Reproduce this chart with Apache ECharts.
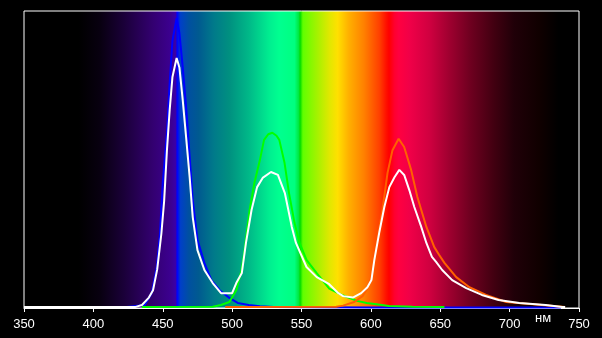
<!DOCTYPE html>
<html>
<head>
<meta charset="utf-8">
<script src="https://cdn.jsdelivr.net/npm/echarts@6/dist/echarts.min.js"></script>
<style>
html,body{margin:0;padding:0;background:#000;}
#c{width:602px;height:338px;}
</style>
</head>
<body>
<div id="c"></div>
<script>
// X axis ticks (nm)
var xTicks = [350, 400, 450, 500, 550, 600, 650, 700, 750];
var unitLabel = 'нм';

// Blue emitter spectrum
var blueWl  = [424, 437, 442, 445.7, 448, 450, 453, 455, 457, 460, 462, 464.4, 467, 469.4, 471.6, 475, 480, 485, 491, 498, 504, 512, 520, 530, 600, 737];
var blueVal = [0.3, 1, 5, 13.8, 25, 42, 59, 75.8, 90, 97.6, 92.6, 81, 66.7, 50.8, 36.4, 23, 15.2, 9.4, 6, 3.4, 1.7, 1, 0.6, 0.3, 0.2, 0.2];

// Green emitter spectrum
var greenWl  = [435, 486, 492, 498, 503, 506.8, 509, 512.6, 516, 520, 523, 526, 529, 532, 534, 537.8, 541, 545, 548.6, 553.6, 560.8, 570, 580, 590, 597, 604, 613, 630, 653];
var greenVal = [0.3, 0.4, 1, 2, 6, 12.8, 19.5, 33, 42, 49.8, 56.6, 58.5, 59, 58, 56.6, 48.8, 38.7, 28.6, 21.9, 16.2, 11.8, 6.5, 4.2, 2.4, 1.7, 1.3, 0.7, 0.4, 0.3];

// Red emitter spectrum
var redWl  = [495, 575, 580, 588, 594, 598, 601, 604.7, 608.3, 612, 615.5, 620, 624, 629, 633.5, 640, 645.7, 649, 653, 661.5, 671, 683, 697.5, 719, 740];
var redVal = [0.3, 0.4, 0.8, 2, 4, 7, 12, 23, 33, 45.5, 53, 57, 54.2, 46.5, 37.4, 27.3, 20.5, 18, 15.2, 10.4, 7, 4.4, 2, 1.2, 0.3];

// Total (white) spectrum
var whiteWl  = [350, 400, 430, 435, 440, 443, 446, 449, 451, 453, 455, 457, 460, 462, 464.4, 467, 469.4, 471.6, 475, 480, 486, 492, 500, 503, 507, 510, 514, 518, 522, 528, 533, 538, 543, 546, 553.6, 561, 570, 576, 580, 587, 593, 597.5, 600.4, 602.5, 606, 609.7, 613.3, 617, 620.5, 624, 627.7, 631.3, 636.3, 640, 644, 647, 651.4, 658.6, 668.7, 680, 692, 707, 726, 738, 740];
var whiteVal = [0.3, 0.3, 0.3, 1, 3.5, 6, 13, 25, 36, 53, 66.7, 77.8, 84.2, 81, 70, 56.6, 44, 30.6, 19.5, 12.8, 8.4, 5, 5, 8.4, 11.8, 22, 33, 40.7, 43.8, 45.8, 44.8, 38.7, 27.3, 21.9, 13.8, 10.4, 8, 5.2, 4, 3.5, 5, 7, 9.4, 16.2, 25.3, 34, 40.7, 44, 46.5, 44.8, 39.7, 34, 27.3, 21.9, 17.2, 15.5, 12.8, 9.4, 6.7, 4.4, 2.7, 1.7, 1, 0.3, 0.3];

function pairs(xs, ys) {
  var out = [];
  for (var i = 0; i < xs.length; i++) out.push([xs[i], ys[i]]);
  return out;
}

// Background spectrum gradient stops (wavelength -> colour)
var gradStops = [
  [350, '#000000'], [390, '#000000'], [405, '#080010'], [422, '#1a0038'],
  [443, '#330070'], [456, '#3c0090'], [459.5, '#3a00a8'], [460.5, '#0000ff'],
  [463, '#0040c8'], [469, '#0050a0'], [476, '#005a90'], [487, '#007a8a'],
  [498, '#009080'], [512, '#00b888'], [527, '#00ee90'], [534, '#00ff90'],
  [545, '#00ff80'], [548, '#00e840'], [549, '#00dd00'], [551, '#60ff00'],
  [563, '#b0f000'], [570, '#e0e800'], [576, '#ffe000'], [584, '#ffb000'],
  [595, '#ff8000'], [606, '#ff4000'], [611, '#ff1000'], [613, '#ff0000'],
  [617, '#ff0030'], [620, '#ff0040'], [628, '#f00048'], [642, '#d00040'],
  [656, '#a00030'], [671, '#700020'], [689, '#400010'], [703, '#200008'],
  [721, '#100000'], [735, '#000000'], [750, '#000000']
];
var xMin = xTicks[0], xMax = xTicks[xTicks.length - 1];
var colorStops = gradStops.map(function (s) {
  return { offset: (s[0] - xMin) / (xMax - xMin), color: s[1] };
});

var chart = echarts.init(document.getElementById('c'), null, { renderer: 'canvas' });
var lineBase = { type: 'line', showSymbol: false, symbol: 'none', animation: false, silent: true };

chart.setOption({
  backgroundColor: '#000',
  animation: false,
  grid: {
    left: 24, right: 23, top: 11, bottom: 30,
    show: true,
    backgroundColor: { type: 'linear', x: 0, y: 0, x2: 1, y2: 0, colorStops: colorStops },
    borderColor: '#ffffff', borderWidth: 1
  },
  xAxis: {
    type: 'value', min: xMin, max: xMax, interval: 50,
    axisLine: { show: true, lineStyle: { color: '#fff', width: 1 } },
    axisTick: { show: true, length: 4, lineStyle: { color: '#fff' } },
    splitLine: { show: false },
    axisLabel: {
      color: '#fff', fontSize: 13, margin: 10,
      fontFamily: 'Liberation Sans, Arial, sans-serif',
      formatter: function (v) { return xTicks.indexOf(v) >= 0 ? String(v) : ''; }
    }
  },
  yAxis: { type: 'value', min: 0, max: 100, show: false },
  graphic: [{
    type: 'text', left: 535, top: 312,
    style: { text: unitLabel, fill: '#fff', font: '13px Liberation Sans, Arial, sans-serif' }
  }],
  series: [
    Object.assign({}, lineBase, { name: 'blue', data: pairs(blueWl, blueVal), lineStyle: { color: '#0000ff', width: 2 } }),
    Object.assign({}, lineBase, { name: 'green', data: pairs(greenWl, greenVal), lineStyle: { color: '#00ff00', width: 2 } }),
    Object.assign({}, lineBase, { name: 'red', data: pairs(redWl, redVal), lineStyle: { color: '#ff6000', width: 2 } }),
    Object.assign({}, lineBase, { name: 'white', data: pairs(whiteWl, whiteVal), lineStyle: { color: '#ffffff', width: 2 } })
  ]
});
</script>
</body>
</html>
